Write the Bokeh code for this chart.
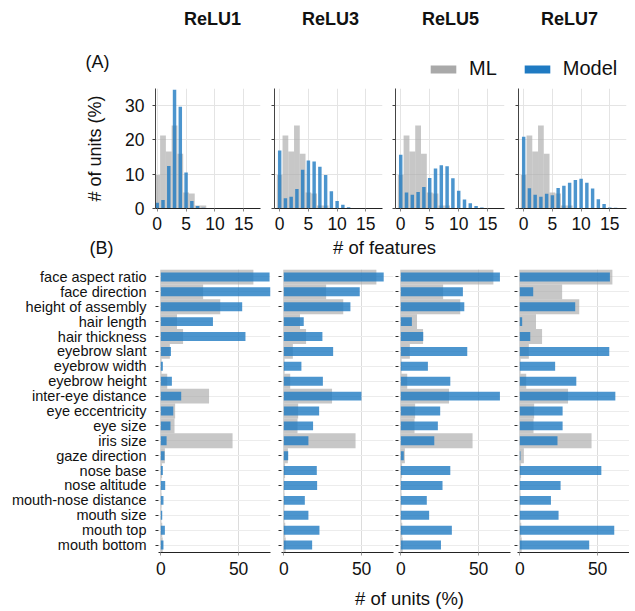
from bokeh.plotting import figure
from bokeh.models import Range1d, FixedTicker, Legend, LegendItem
from bokeh.layouts import column, row
from bokeh.embed import file_html
from bokeh.resources import INLINE
from bokeh.core.properties import value

# ---------------- data ----------------
layers = ["ReLU1", "ReLU3", "ReLU5", "ReLU7"]

n_features = list(range(17))
ml_hist = [9.8, 21.3, 16.6, 24.2, 16.0, 4.7, 4.4, 0.9, 0.9, 0, 0, 0, 0, 0, 0, 0, 0]
relu1_hist = [1.7, 2.5, 12.4, 34.6, 29.7, 10.5, 2.2, 0.7, 0.2, 0, 0, 0, 0, 0, 0, 0, 0]
relu3_hist = [16.9, 3.0, 3.4, 5.7, 11.3, 14.0, 13.7, 12.2, 9.8, 5.0, 2.2, 1.1, 0.4, 0.1, 0, 0, 0]
relu5_hist = [15.7, 4.7, 4.0, 4.8, 6.3, 8.9, 11.7, 12.6, 12.3, 8.8, 5.2, 2.6, 1.5, 0.7, 0.3, 0.1, 0]
relu7_hist = [20.9, 5.9, 4.0, 3.4, 4.3, 3.9, 6.0, 6.6, 7.5, 8.3, 8.7, 7.5, 5.8, 2.7, 1.3, 0.3, 0.2]

features = ["face aspect ratio", "face direction", "height of assembly", "hair length",
            "hair thickness", "eyebrow slant", "eyebrow width", "eyebrow height",
            "inter-eye distance", "eye eccentricity", "eye size", "iris size",
            "gaze direction", "nose base", "nose altitude", "mouth-nose distance",
            "mouth size", "mouth top", "mouth bottom"]
ml_units = [59.5, 27.2, 38.2, 10.4, 14.3, 5.8, 0.5, 4.1, 31.0, 9.2, 8.8, 46.1, 2.6,
            0.8, 0.4, 0.5, 0.4, 0.9, 1.2]
relu1_units = [69.9, 72.0, 52.3, 33.5, 54.4, 6.5, 1.3, 7.1, 13.1, 8.0, 6.2, 3.7, 2.4,
               1.3, 2.8, 1.7, 0.9, 2.6, 1.7]
relu3_units = [64.2, 48.8, 42.8, 12.8, 24.8, 31.7, 11.3, 25.1, 49.9, 22.7, 18.8, 15.8, 2.8,
               21.2, 21.4, 13.5, 15.8, 22.9, 18.2]
relu5_units = [63.7, 39.9, 40.8, 7.1, 14.4, 42.7, 17.4, 31.8, 63.7, 25.3, 23.8, 21.5, 1.9,
               31.8, 26.8, 16.7, 18.2, 32.8, 25.8]
relu7_units = [57.9, 8.6, 35.6, 1.5, 6.7, 57.5, 22.7, 36.3, 61.4, 27.5, 27.5, 24.2, 0.4,
               52.4, 26.2, 20.0, 24.9, 60.7, 44.6]

hist_ticks = [0, 5, 10, 15]
count_ticks = [0, 10, 20, 30]
unit_ticks = [0, 50]

# ---------------- style ----------------
FONT = "Liberation Sans"
GRAY = "#a9a9a9"
BLUE = "#1f7ac2"
TOTAL_W = 629

hist_sets = [relu1_hist, relu3_hist, relu5_hist, relu7_hist]
unit_sets = [relu1_units, relu3_units, relu5_units, relu7_units]
feat_pos = list(range(len(features)))


def band(height):
    p = figure(width=TOTAL_W, height=height, x_range=Range1d(0, TOTAL_W),
               y_range=Range1d(height, 0), x_axis_type=None, y_axis_type=None,
               output_backend="svg", toolbar_location=None,
               min_border=0, min_border_left=0, min_border_right=0,
               min_border_top=0, min_border_bottom=0)
    p.outline_line_color = None
    p.grid.visible = False
    return p


def txt(p, x, y, s, size, style="normal", align="center"):
    p.text(x=[x], y=[y], text=[s], text_font=value(FONT), text_font_size=size,
           text_font_style=style, text_align=align, text_baseline="middle",
           text_color="#111111")


# ---------------- header ----------------
header = band(80)
title_x = [212, 330, 450, 569]
for tx, name in zip(title_x, layers):
    txt(header, tx, 18, name, "18px", "bold")
txt(header, 85, 61, "(A)", "18px", align="left")
# zero-size stand-ins that carry the legend styling
r_ml = header.vbar(x=[0], top=[0], bottom=[0], width=0, fill_color=GRAY, line_color=None)
r_model = header.vbar(x=[0], top=[0], bottom=[0], width=0, fill_color=BLUE, line_color=None)
legend = Legend(items=[LegendItem(label="ML", renderers=[r_ml]),
                       LegendItem(label="Model", renderers=[r_model])],
                orientation="horizontal", location=(427, 0),
                glyph_width=32, glyph_height=10, label_standoff=10, spacing=24,
                padding=0, margin=0, border_line_color=None, background_fill_alpha=0,
                label_text_font=FONT, label_text_font_size="20px", label_text_color="#111111")
header.add_layout(legend)

# ---------------- histograms ----------------
hist_geom = [(155, 105, 6, -0.3), (8, 108, 6, -0.9), (7, 109, 6, -0.9), (8, 108, 3, -0.9)]
hist_figs = []
for i, (counts, (lb, fw, rb, xs)) in enumerate(zip(hist_sets, hist_geom)):
    p = figure(width=lb + fw + rb, height=8 + 120 + 30,
               x_range=Range1d(xs, 17.9), y_range=Range1d(0, 35),
               output_backend="svg", toolbar_location=None,
               min_border_left=lb, min_border_right=rb, min_border_top=8, min_border_bottom=30)
    p.outline_line_color = None
    p.vbar(x=n_features, top=ml_hist, width=1.0, fill_color=GRAY, fill_alpha=0.65, line_color=None)
    p.vbar(x=n_features, top=counts, width=0.6, fill_color=BLUE, fill_alpha=0.8, line_color=None)
    p.xaxis.ticker = FixedTicker(ticks=hist_ticks)
    p.yaxis.ticker = FixedTicker(ticks=count_ticks)
    p.xgrid.ticker = FixedTicker(ticks=hist_ticks)
    p.ygrid.ticker = FixedTicker(ticks=count_ticks)
    p.grid.grid_line_color = "#e4e4e4"
    for ax in (p.xaxis[0], p.yaxis[0]):
        ax.major_tick_out = 3
        ax.major_tick_in = 0
        ax.minor_tick_line_color = None
        ax.major_label_text_font = FONT
        ax.major_label_text_font_size = "17.5px"
        ax.major_label_text_color = "#111111"
    p.xaxis.axis_line_color = "#222222"
    p.xaxis.major_tick_line_color = "#888888"
    p.xaxis.major_label_standoff = 5
    p.yaxis.axis_line_color = "#444444"
    p.yaxis.major_tick_line_color = "#444444"
    if i == 0:
        p.yaxis.major_label_standoff = 8
        p.yaxis.axis_label = "# of units (%)"
        p.yaxis.axis_label_text_font = FONT
        p.yaxis.axis_label_text_font_size = "18px"
        p.yaxis.axis_label_text_font_style = "normal"
        p.yaxis.axis_label_text_color = "#111111"
        p.yaxis.axis_label_standoff = 17
    else:
        p.yaxis.major_label_overrides = {t: "" for t in count_ticks}
        p.yaxis.major_label_standoff = 0
    hist_figs.append(p)

# ---------------- middle band ----------------
mid = band(24)
txt(mid, 384, 9, "# of features", "18.5px")
txt(mid, 89, 9, "(B)", "18px", align="left")

# ---------------- bar charts ----------------
bar_geom = [(158, 112, 3), (8, 112, 2), (3, 112, 2), (5, 112, 0)]
bar_figs = []
for i, (units, (lb, fw, rb)) in enumerate(zip(unit_sets, bar_geom)):
    p = figure(width=lb + fw + rb, height=7 + 283 + 30,
               x_range=Range1d(-1.5, 70.5), y_range=Range1d(len(features) - 0.5, -0.5),
               output_backend="svg", toolbar_location=None,
               min_border_left=lb, min_border_right=rb, min_border_top=7, min_border_bottom=30)
    p.outline_line_color = None
    p.hbar(y=feat_pos, left=0, right=ml_units, height=1.0, fill_color=GRAY,
           fill_alpha=0.65, line_color=None)
    p.hbar(y=feat_pos, left=0, right=units, height=0.6, fill_color=BLUE,
           fill_alpha=0.8, line_color=None)
    p.xaxis.ticker = FixedTicker(ticks=unit_ticks)
    p.xgrid.ticker = FixedTicker(ticks=unit_ticks)
    p.yaxis.ticker = FixedTicker(ticks=feat_pos)
    p.ygrid.ticker = FixedTicker(ticks=feat_pos)
    p.xgrid.grid_line_color = "#dcdcdc"
    p.ygrid.grid_line_color = "#ececec"
    p.xaxis.axis_line_color = "#222222"
    p.xaxis.major_tick_out = 3
    p.xaxis.major_tick_in = 0
    p.xaxis.major_tick_line_color = "#999999"
    p.xaxis.minor_tick_line_color = None
    p.xaxis.major_label_text_font = FONT
    p.xaxis.major_label_text_font_size = "17.5px"
    p.xaxis.major_label_text_color = "#111111"
    p.xaxis.major_label_standoff = 6
    p.yaxis.axis_line_color = None
    p.yaxis.major_tick_out = 3
    p.yaxis.major_tick_in = 0
    p.yaxis.minor_tick_line_color = None
    p.yaxis.major_tick_line_color = "#333333"
    if i == 0:
        p.yaxis.major_label_overrides = {k: f for k, f in zip(feat_pos, features)}
        p.yaxis.major_label_text_font = FONT
        p.yaxis.major_label_text_font_size = "14.5px"
        p.yaxis.major_label_text_color = "#111111"
        p.yaxis.major_label_standoff = 9
    else:
        p.yaxis.major_label_overrides = {k: "" for k in feat_pos}
        p.yaxis.major_label_standoff = 0
    bar_figs.append(p)

# ---------------- bottom band ----------------
bottom = band(27)
txt(bottom, 409, 16, "# of units (%)", "18.5px")

layout = column(header, row(*hist_figs, spacing=0), mid, row(*bar_figs, spacing=0), bottom,
                spacing=0)

open("out.html", "w").write(file_html(layout, INLINE))
